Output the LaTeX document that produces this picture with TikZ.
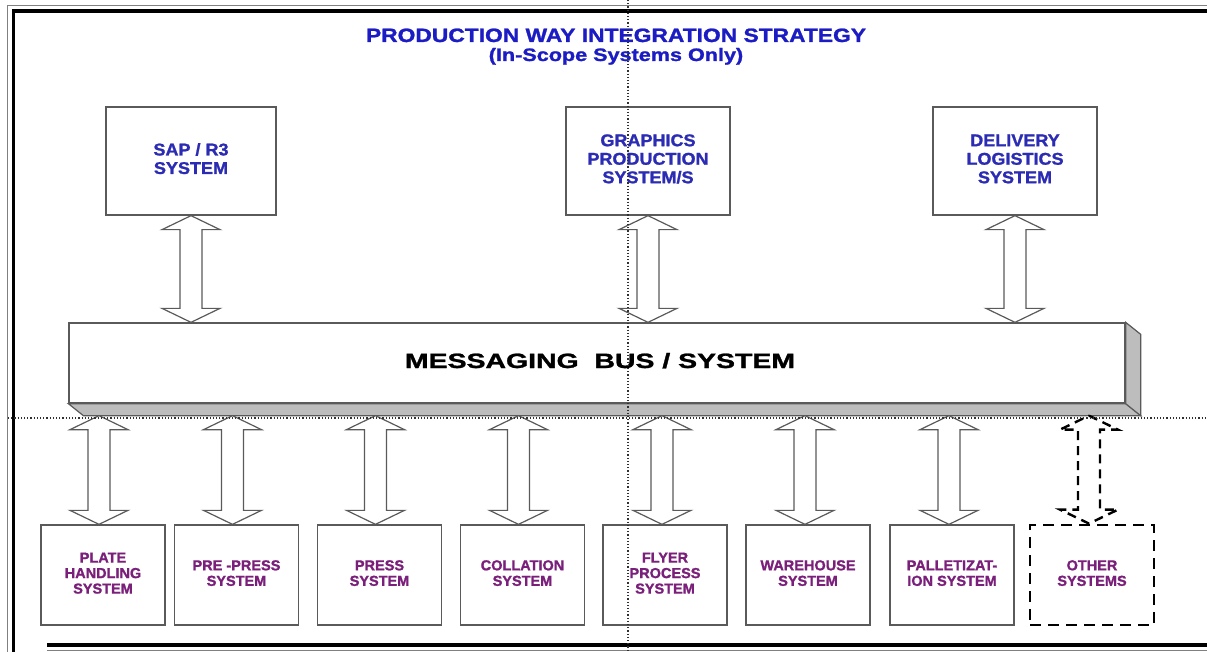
\documentclass[tikz,border=0pt]{standalone}
\usepackage{fontspec}
\setmainfont{Liberation Sans Bold}[FakeBold=1.2]
\usetikzlibrary{calc}
\definecolor{ttlblue}{HTML}{1C1CC4}
\definecolor{boxblue}{HTML}{2B2BB4}
\definecolor{boxpurple}{HTML}{7A1F7A}
\definecolor{edgegray}{HTML}{5A5A5A}
\definecolor{shadegray}{HTML}{BDBDBD}
\definecolor{dotgray}{HTML}{303030}
\newcommand\lbl[2]{\scalebox{#1}[1]{\begin{tabular}{@{}c@{}}#2\end{tabular}}}
\newcommand\dblarrow[3]{%
  \draw[#1] (#2) -- ($(#2)+(29,14)$) -- ($(#2)+(11,14)$) -- ($(#3)+(11,-14)$)
    -- ($(#3)+(29,-14)$) -- (#3) -- ($(#3)+(-29,-14)$) -- ($(#3)+(-11,-14)$)
    -- ($(#2)+(-11,14)$) -- ($(#2)+(-29,14)$) -- cycle;}
\begin{document}
\begin{tikzpicture}[x=1pt,y=-1pt,
  topbox/.style={draw=edgegray,line width=1.3pt,fill=white,inner sep=0pt,
    minimum height=108pt,text=boxblue,font=\fontsize{17}{18.5}\selectfont},
  botbox/.style={draw=edgegray,line width=1.3pt,fill=white,inner sep=0pt,
    minimum width=124pt,minimum height=100pt,text=boxpurple,
    font=\fontsize{14.5}{15.5}\selectfont},
  dashbox/.style={botbox,draw=black,line width=2.8pt,dash pattern=on 11pt off 7pt},
  bigarrow/.style={draw=edgegray,line width=1.2pt,fill=white,line join=miter},
  dasharrow/.style={draw=black,line width=2.4pt,dash pattern=on 9pt off 6pt,fill=white},
  facefill/.style={draw=edgegray,line width=1.2pt,fill=shadegray,line join=miter},
  dotline/.style={draw=dotgray,line width=1.1pt,dash pattern=on 1.2pt off 2pt},
  frameline/.style={draw=black,line width=3.5pt}]
\useasboundingbox (0,0) rectangle (1207,652);
\fill[white] (0,0) rectangle (1207,652);

% frame
\draw[gray,line width=0.9pt] (7,5) -- (7,652);
\draw[gray,line width=0.9pt] (7,5) -- (1207,5);
\draw[frameline] (13.5,9.5) -- (13.5,652);
\draw[frameline] (11.75,11) -- (1207,11);
\draw[draw=black,line width=4pt] (47,645) -- (1207,645);
\draw[gray,line width=0.9pt] (47,650.5) -- (1207,650.5);

% title
\node[anchor=base,text=ttlblue,font=\fontsize{18}{20}\selectfont,inner sep=0pt] (title) at (616,42)
  {\resizebox{500pt}{13.5pt}{PRODUCTION WAY INTEGRATION STRATEGY}};
\node[anchor=base,text=ttlblue,font=\fontsize{18}{20}\selectfont,inner sep=0pt] (subtitle) at (616,61)
  {\scalebox{1.2}[1]{(In-Scope Systems Only)}};

% top systems
\node[topbox,minimum width=170pt] (sap) at (191,161) {\lbl{1.06}{SAP / R3\\SYSTEM}};
\node[topbox,minimum width=164pt] (gps) at (648,161) {\lbl{1.06}{GRAPHICS\\PRODUCTION\\SYSTEM/S}};
\node[topbox,minimum width=164pt] (dls) at (1015,161) {\lbl{1.06}{DELIVERY\\LOGISTICS\\SYSTEM}};

% messaging bus
\node[draw=edgegray,line width=1.3pt,fill=white,inner sep=0pt,minimum width=1056pt,minimum height=80pt] (bus) at (597,363) {};
\draw[facefill] (bus.south west) -- (bus.south east) -- ($(bus.south east)+(15,12)$) -- ($(bus.south west)+(15,12)$) -- cycle;
\draw[facefill] (bus.north east) -- ($(bus.north east)+(15,12)$) -- ($(bus.south east)+(15,12)$) -- (bus.south east) -- cycle;
\node[anchor=base,inner sep=0pt,font=\fontsize{21}{24}\selectfont] (bustext) at (600,368)
  {\resizebox{390pt}{15pt}{MESSAGING\ \ BUS / SYSTEM}};
\coordinate (busbot) at ($(bus.south)+(0,12)$);

% bottom systems
\node[botbox] (pl) at (103,575) {\lbl{1.0}{PLATE\\HANDLING\\SYSTEM}};
\node[botbox] (pp) at (236.5,575) {\lbl{1.0}{PRE -PRESS\\SYSTEM}};
\node[botbox] (pr) at (379.5,575) {\lbl{1.0}{PRESS\\SYSTEM}};
\node[botbox] (co) at (522.5,575) {\lbl{1.0}{COLLATION\\SYSTEM}};
\node[botbox] (fl) at (665,575) {\lbl{1.0}{FLYER\\PROCESS\\SYSTEM}};
\node[botbox] (wh) at (808,575) {\lbl{1.0}{WAREHOUSE\\SYSTEM}};
\node[botbox] (pa) at (952,575) {\lbl{1.0}{PALLETIZAT-\\ION SYSTEM}};
\node[dashbox] (ot) at (1092,575) {\lbl{1.0}{OTHER\\SYSTEMS}};

% top arrows
\coordinate (sapB) at (bus.north -| sap.south);
\coordinate (gpsB) at (bus.north -| gps.south);
\coordinate (dlsB) at (bus.north -| dls.south);
\dblarrow{bigarrow}{sap.south}{sapB}
\dblarrow{bigarrow}{gps.south}{gpsB}
\dblarrow{bigarrow}{dls.south}{dlsB}

% bottom arrows
\coordinate (plT) at ($(busbot -| pl.north)+(-4,0)$);
\coordinate (ppT) at ($(busbot -| pp.north)+(-4,0)$);
\coordinate (prT) at ($(busbot -| pr.north)+(-4,0)$);
\coordinate (coT) at ($(busbot -| co.north)+(-4,0)$);
\coordinate (flT) at ($(busbot -| fl.north)+(-3,0)$);
\coordinate (whT) at ($(busbot -| wh.north)+(-3,0)$);
\coordinate (paT) at ($(busbot -| pa.north)+(-3,0)$);
\coordinate (otT) at ($(busbot -| ot.north)+(-3,0)$);
\coordinate (plB) at (plT |- pl.north);
\coordinate (ppB) at (ppT |- pp.north);
\coordinate (prB) at (prT |- pr.north);
\coordinate (coB) at (coT |- co.north);
\coordinate (flB) at (flT |- fl.north);
\coordinate (whB) at (whT |- wh.north);
\coordinate (paB) at (paT |- pa.north);
\coordinate (otB) at (otT |- ot.north);
\dblarrow{bigarrow}{plT}{plB}
\dblarrow{bigarrow}{ppT}{ppB}
\dblarrow{bigarrow}{prT}{prB}
\dblarrow{bigarrow}{coT}{coB}
\dblarrow{bigarrow}{flT}{flB}
\dblarrow{bigarrow}{whT}{whB}
\dblarrow{bigarrow}{paT}{paB}
\dblarrow{dasharrow}{otT}{otB}

% dotted guide lines
\coordinate (vt) at (628,0);
\coordinate (vb) at (628,652);
\coordinate (hl) at (8,418);
\coordinate (hr) at (1207,418);
\draw[dotline] (vt) -- (vb);
\draw[dotline] (hl) -- (hr);
\end{tikzpicture}
\end{document}
